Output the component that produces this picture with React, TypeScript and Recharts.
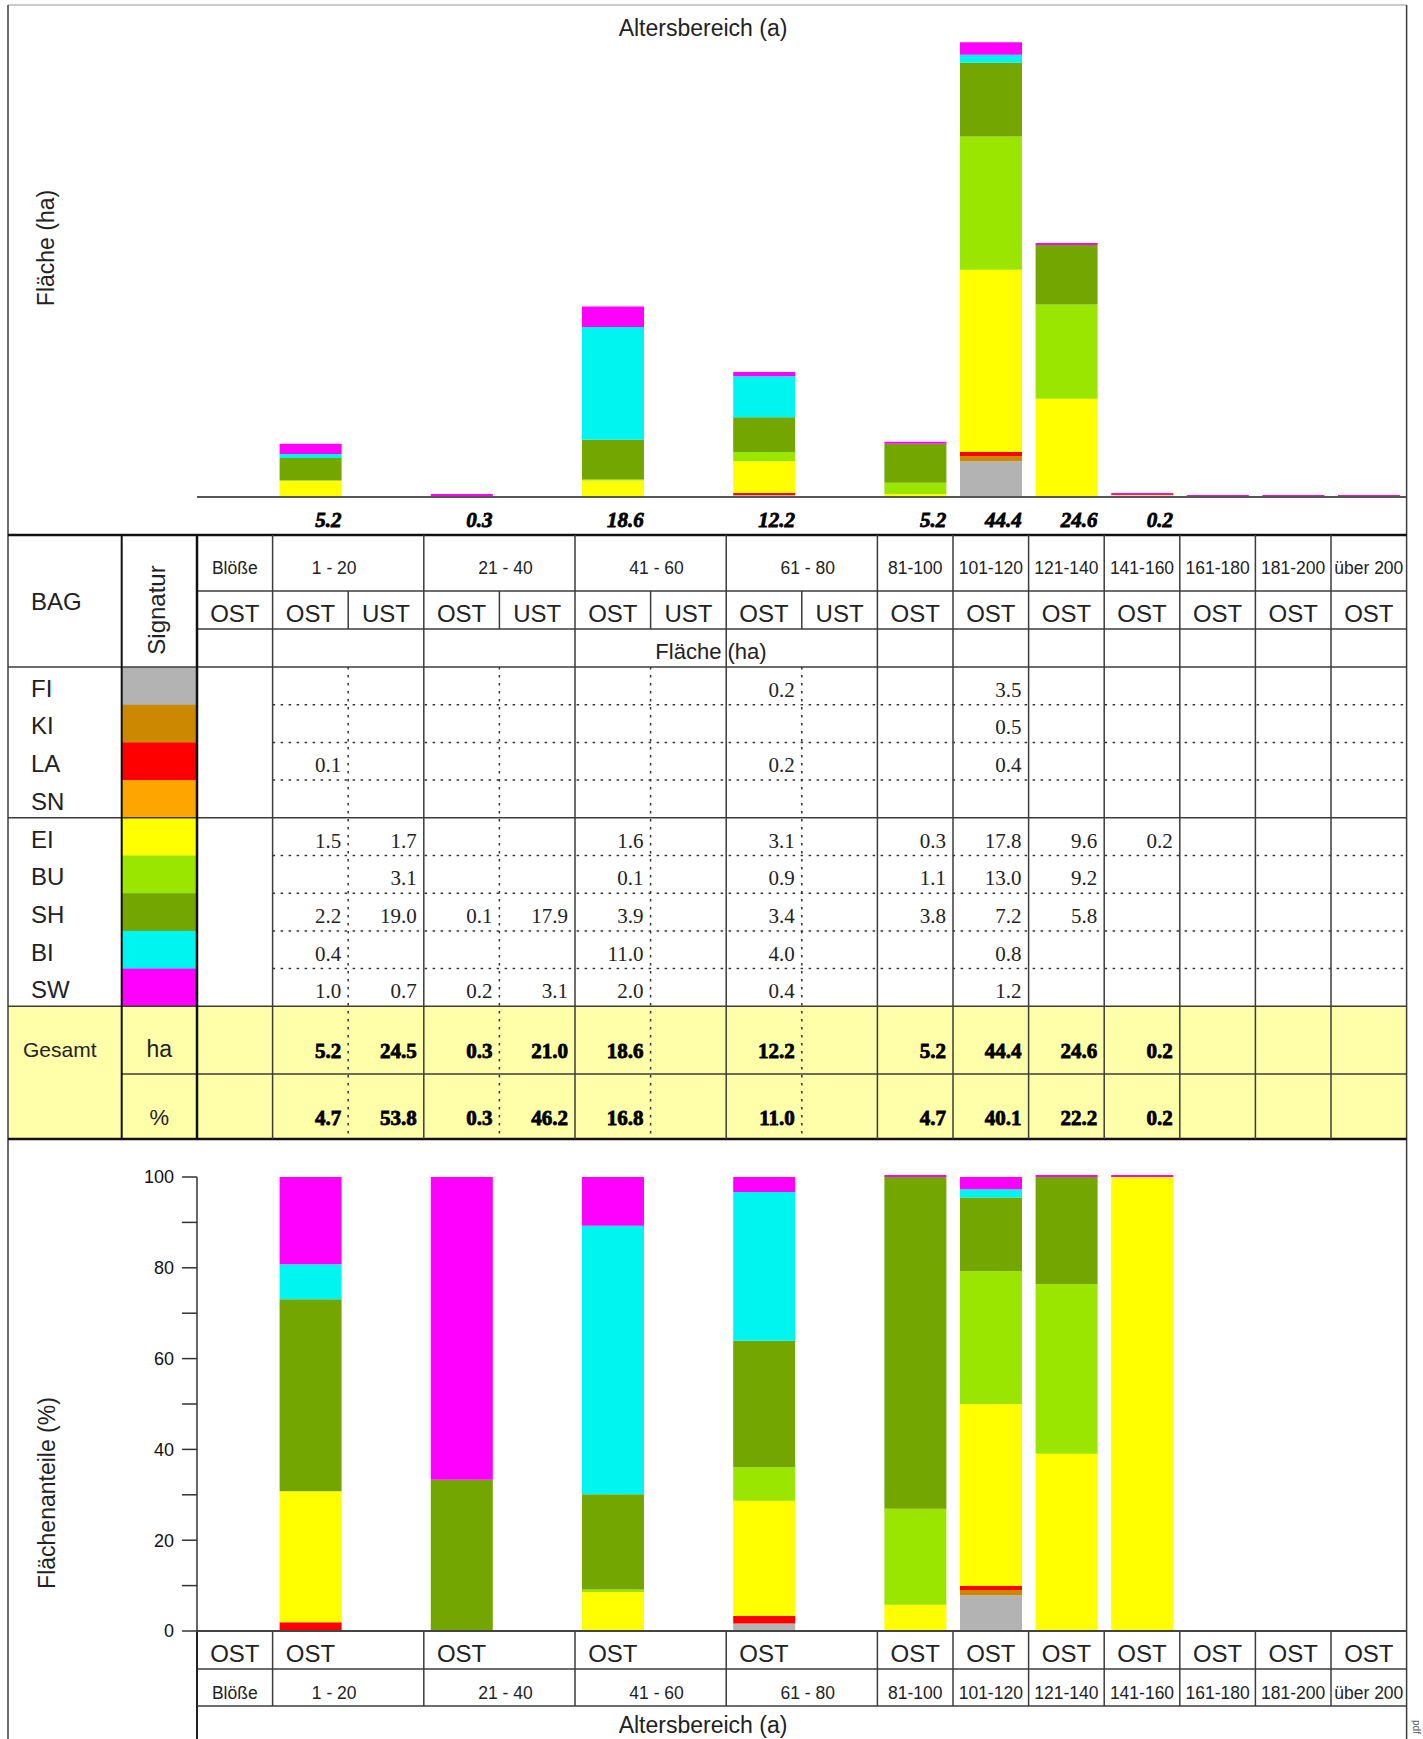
import React from 'react';
import { BarChart, Bar, XAxis, YAxis } from 'recharts';

// columns of the table / x categories (Blöße, then age ranges split into OST / UST)
const ageGroups = ['Blöße', '1 - 20', '21 - 40', '41 - 60', '61 - 80', '81-100', '101-120', '121-140', '141-160', '161-180', '181-200', 'über 200'];
const groupSpans = [1, 2, 2, 2, 2, 1, 1, 1, 1, 1, 1, 1];
const layers = ['OST', 'OST', 'UST', 'OST', 'UST', 'OST', 'UST', 'OST', 'UST', 'OST', 'OST', 'OST', 'OST', 'OST', 'OST', 'OST'];

const species = ['FI', 'KI', 'LA', 'SN', 'EI', 'BU', 'SH', 'BI', 'SW'];
const speciesColors = ['#b3b3b3', '#cc8800', '#ff0000', '#ffa500', '#ffff00', '#9be600', '#73a600', '#00f5f0', '#ff00ff'];

const _ = null;
const FI = [_, _, _, _, _, _, _, 0.2, _, _, 3.5, _, _, _, _, _];
const KI = [_, _, _, _, _, _, _, _, _, _, 0.5, _, _, _, _, _];
const LA = [_, 0.1, _, _, _, _, _, 0.2, _, _, 0.4, _, _, _, _, _];
const SN = [_, _, _, _, _, _, _, _, _, _, _, _, _, _, _, _];
const EI = [_, 1.5, 1.7, _, _, 1.6, _, 3.1, _, 0.3, 17.8, 9.6, 0.2, _, _, _];
const BU = [_, _, 3.1, _, _, 0.1, _, 0.9, _, 1.1, 13.0, 9.2, _, _, _, _];
const SH = [_, 2.2, 19.0, 0.1, 17.9, 3.9, _, 3.4, _, 3.8, 7.2, 5.8, _, _, _, _];
const BI = [_, 0.4, _, _, _, 11.0, _, 4.0, _, _, 0.8, _, _, _, _, _];
const SW = [_, 1.0, 0.7, 0.2, 3.1, 2.0, _, 0.4, _, _, 1.2, _, _, _, _, _];
const speciesValues = [FI, KI, LA, SN, EI, BU, SH, BI, SW];

const totalHa = [_, 5.2, 24.5, 0.3, 21.0, 18.6, _, 12.2, _, 5.2, 44.4, 24.6, 0.2, _, _, _];
const totalPct = [_, 4.7, 53.8, 0.3, 46.2, 16.8, _, 11.0, _, 4.7, 40.1, 22.2, 0.2, _, _, _];

const pctTicks = [0, 10, 20, 30, 40, 50, 60, 70, 80, 90, 100];

// only the OST columns are drawn as bars
const chartRows = layers.map((layer, i) => {
  const row: Record<string, number> = { key: i };
  if (layer === 'OST') species.forEach((s, k) => { row[s] = speciesValues[k][i] ?? 0; });
  return row;
});

// layout
const XO = 8, XB = 121.7, XS = 197, CW = 75.6, XR = XS + 16 * CW;
const colX = (i: number) => XS + i * CW;
const T_TOP = 535, R1 = 591, R2 = 629, R3 = 667, RH = 37.7;
const G_TOP = R3 + 9 * RH, G_MID = 1074, G_BOT = 1139;
const B_AX = 1631, B1 = 1669, B2 = 1706;
const labelShift = [0, -14, 6, 6, 6, 0, 0, 0, 0, 0, 0, 0];

const sans = '"Liberation Sans", Arial, Helvetica, sans-serif';
const serif = '"Liberation Serif", "Times New Roman", serif';
const INK = '#222';
const LINE = '#3c3c3c';

const groupStarts = groupSpans.map((_s, g) => groupSpans.slice(0, g).reduce((a, b) => a + b, 0));

function TableLayer() {
  const els: React.ReactNode[] = [];
  let n = 0;
  const line = (x1: number, y1: number, x2: number, y2: number, w = 1.5, dotted = false, color = LINE) =>
    els.push(<line key={n++} x1={x1} y1={y1} x2={x2} y2={y2} stroke={color} strokeWidth={w}
      strokeDasharray={dotted ? '2.5 5.5' : undefined} />);
  const txt = (x: number, y: number, s: string, size: number, anchor = 'middle', extra: any = {}) =>
    els.push(<text key={n++} x={x} y={y} fontSize={size} textAnchor={anchor} fontFamily={sans} fill={INK} {...extra}>{s}</text>);

  // backgrounds
  els.push(<rect key={n++} x={XO} y={G_TOP} width={XR - XO} height={G_BOT - G_TOP} fill="#ffffaa" />);
  species.forEach((s, k) => {
    els.push(<rect key={n++} x={XB} y={R3 + k * RH} width={XS - XB} height={RH + 0.3} fill={speciesColors[k]} />);
  });

  // titles
  txt(703, 36, 'Altersbereich (a)', 23);
  txt(54, 248, 'Fläche (ha)', 23, 'middle', { transform: 'rotate(-90 54 248)' });
  txt(55, 1493, 'Flächenanteile (%)', 23, 'middle', { transform: 'rotate(-90 55 1493)' });

  // outer frame
  line(XO, 5, XR, 5, 1, false, '#999');
  line(XO, 5, XO, 1739, 1.5);
  line(XR, 5, XR, 1739, 1.5);

  // horizontal table lines
  line(XO, T_TOP, XR, T_TOP, 2.5, false, '#111');
  line(XS, R1, XR, R1);
  line(XS, R2, XR, R2);
  line(XO, R3, XR, R3);
  for (let k = 1; k < 9; k++) {
    const y = R3 + k * RH;
    if (k === 4) line(XO, y, XR, y);
    else line(colX(1), y, XR, y, 1.5, true, '#333');
  }
  line(XO, G_TOP, XR, G_TOP);
  line(XB, G_MID, XR, G_MID);
  line(XO, G_BOT, XR, G_BOT, 2.5, false, '#111');

  // vertical table lines
  line(XB, T_TOP, XB, G_BOT, 2, false, '#111');
  line(XS, T_TOP, XS, G_BOT, 2.5, false, '#111');
  groupStarts.slice(1).forEach((s) => line(colX(s), T_TOP, colX(s), G_BOT));
  layers.forEach((l, i) => {
    if (l === 'UST') {
      line(colX(i), R1, colX(i), R2);
      line(colX(i), R3, colX(i), G_BOT, 1.5, true, '#333');
    }
  });

  // header
  txt(31, 610, 'BAG', 24, 'start');
  txt(165, 610, 'Signatur', 24, 'middle', { transform: 'rotate(-90 165 610)' });
  ageGroups.forEach((g, k) => {
    const cx = colX(groupStarts[k]) + (groupSpans[k] * CW) / 2 + labelShift[k];
    txt(cx, 574, g, 17.5);
  });
  layers.forEach((l, i) => txt(colX(i) + CW / 2, 622, l, 24));
  txt(711, 659, 'Fläche (ha)', 22);

  // species rows
  species.forEach((s, k) => {
    const base = R3 + (k + 1) * RH - 8;
    txt(31, base, s, 24, 'start');
    speciesValues[k].forEach((v, i) => {
      if (v == null) return;
      txt(colX(i + 1) - 7, base, v.toFixed(1), 21, 'end', { fontFamily: serif });
    });
  });

  // Gesamt rows
  txt(23, 1057, 'Gesamt', 21, 'start');
  txt((XB + XS) / 2, 1057, 'ha', 23);
  txt((XB + XS) / 2, 1125, '%', 22);
  const bold = { fontFamily: serif, fontWeight: 'bold', stroke: '#000', strokeWidth: 0.8, fill: '#000' };
  totalHa.forEach((v, i) => { if (v != null) txt(colX(i + 1) - 7, 1057.5, v.toFixed(1), 21, 'end', bold); });
  totalPct.forEach((v, i) => { if (v != null) txt(colX(i + 1) - 7, 1125, v.toFixed(1), 21, 'end', bold); });

  // table under the percentage chart
  line(XS, B1, XR, B1);
  line(XS, B2, XR, B2);
  line(XS, B_AX, XS, 1739, 2, false, '#222');
  groupStarts.slice(1).forEach((s) => line(colX(s), B_AX, colX(s), B2));
  layers.forEach((l, i) => { if (l === 'OST') txt(colX(i) + CW / 2, 1662, l, 24); });
  ageGroups.forEach((g, k) => {
    const cx = colX(groupStarts[k]) + (groupSpans[k] * CW) / 2 + labelShift[k];
    txt(cx, 1699, g, 17.5);
  });
  txt(703, 1733, 'Altersbereich (a)', 23);
  txt(1413, 1727, 'pdf', 10, 'middle', { transform: 'rotate(90 1413 1727)', fill: '#555' });

  return (
    <svg width={1423} height={1739} style={{ position: 'absolute', left: 0, top: 0 }}>
      {els}
    </svg>
  );
}

const TotalTick = (props: any) => {
  const { x, y, payload } = props;
  const i = Number(payload.value);
  const v = totalHa[i];
  if (layers[i] !== 'OST' || v == null) return <g />;
  return (
    <text x={x + 31} y={y + 30} textAnchor="end" fontFamily={serif} fontWeight="bold" fontStyle="italic"
      fontSize={21} fill="#000" stroke="#000" strokeWidth={0.8}>
      {v.toFixed(1)}
    </text>
  );
};

const topMinSize = (_v: any, i: number) => (i > 0 && layers[i] === 'OST' ? 2 : 0);
const pctMinSize = (_v: any, i: number) => (layers[i] === 'OST' && totalHa[i] != null ? 2 : 0);

export default function App() {
  return (
    <div style={{ position: 'absolute', left: 0, top: 0, width: 1423, height: 1739, background: '#fff', overflow: 'hidden' }}>
      <TableLayer />

      <div style={{ position: 'absolute', left: 0, top: 0 }}>
        <BarChart width={XR} height={540} data={chartRows} barSize={62}
          margin={{ top: 36.2, right: 0, bottom: 0, left: XS }}>
          <XAxis dataKey="key" height={43} interval={0} tickSize={0} tickMargin={0} tickLine={false}
            axisLine={{ stroke: '#555', strokeWidth: 2 }} tick={<TotalTick />} />
          <YAxis hide type="number" domain={[0, 45]} />
          {species.map((s, k) => (
            <Bar key={s} dataKey={s} stackId="ha" fill={speciesColors[k]} isAnimationActive={false}
              minPointSize={k === species.length - 1 ? topMinSize : 0} />
          ))}
        </BarChart>
      </div>

      <div style={{ position: 'absolute', left: 0, top: 1140 }}>
        <BarChart width={XR} height={511} data={chartRows} barSize={62} stackOffset="expand"
          margin={{ top: 37, right: 0, bottom: 0, left: 0 }}>
          <XAxis dataKey="key" height={20} tick={false} tickLine={false} axisLine={{ stroke: '#444', strokeWidth: 2 }} />
          <YAxis width={XS} type="number" domain={[0, 1]} ticks={pctTicks.map((t) => t / 100)} interval={0}
            tickSize={15} tickMargin={8}
            tickFormatter={(v: number) => { const p = Math.round(v * 100); return p % 20 === 0 ? String(p) : ''; }}
            axisLine={{ stroke: '#333', strokeWidth: 1.5 }} tickLine={{ stroke: '#333', strokeWidth: 1.5 }}
            tick={{ fill: '#111', fontSize: 18, fontFamily: sans }} />
          {species.map((s, k) => (
            <Bar key={s} dataKey={s} stackId="pct" fill={speciesColors[k]} isAnimationActive={false}
              minPointSize={k === species.length - 1 ? pctMinSize : 0} />
          ))}
        </BarChart>
      </div>
    </div>
  );
}
